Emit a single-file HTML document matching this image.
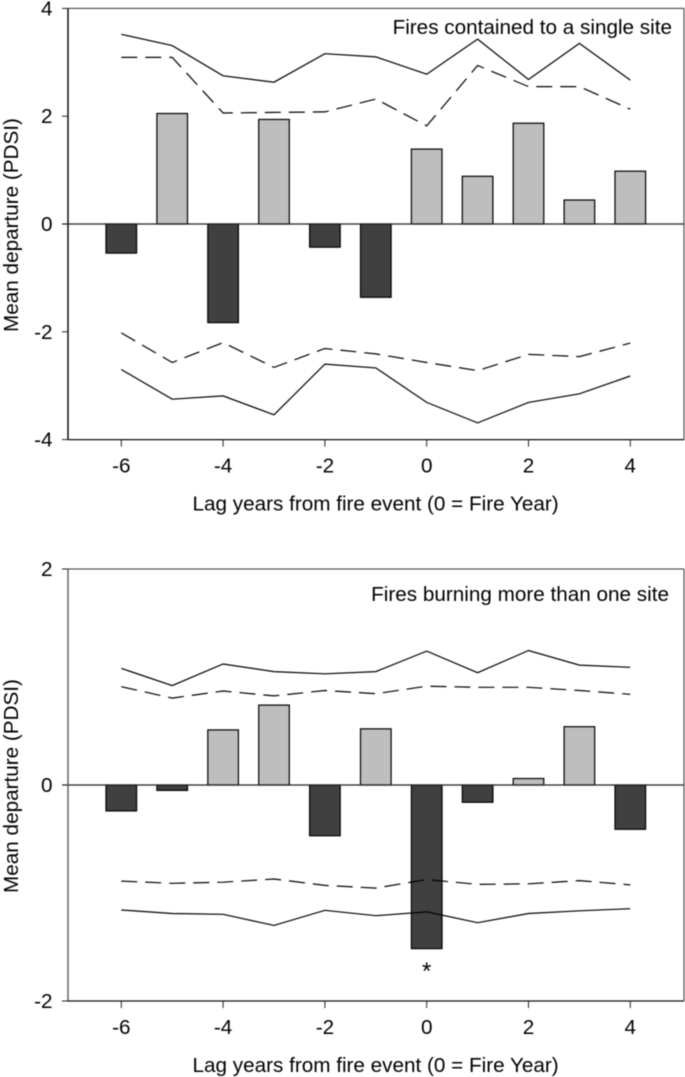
<!DOCTYPE html>
<html>
<head>
<meta charset="utf-8">
<title>Mean departure (PDSI) by lag year</title>
<style>
html,body{margin:0;padding:0;background:#fff;width:685px;height:1077px;overflow:hidden}
svg{display:block;position:absolute;left:0;top:0}
text{font-family:"Liberation Sans",sans-serif;fill:#000}
</style>
</head>
<body>
<svg id="chart" width="685" height="1077" viewBox="0 0 685 1077" xmlns="http://www.w3.org/2000/svg">
<g id="root" style="filter:blur(0.4px)"></g>
</svg>
<script>
var years = [-6,-5,-4,-3,-2,-1,0,1,2,3,4];
var xTickLabels = [-6,-4,-2,0,2,4];

var p1Ticks = [4,2,0,-2,-4];
var p1Bars = [-0.54,2.05,-1.83,1.94,-0.43,-1.36,1.39,0.885,1.87,0.445,0.98];
var p1UpperSolid = [3.52,3.31,2.75,2.63,3.16,3.10,2.78,3.43,2.68,3.35,2.67];
var p1UpperDash = [3.09,3.09,2.06,2.07,2.08,2.32,1.82,2.94,2.55,2.55,2.13];
var p1LowerDash = [-2.02,-2.57,-2.20,-2.66,-2.31,-2.41,-2.57,-2.72,-2.42,-2.46,-2.21];
var p1LowerSolid = [-2.70,-3.25,-3.19,-3.54,-2.60,-2.67,-3.31,-3.69,-3.31,-3.15,-2.82];

var p2Ticks = [2,0,-2];
var p2Bars = [-0.24,-0.05,0.51,0.74,-0.47,0.52,-1.515,-0.16,0.06,0.54,-0.41];
var p2UpperSolid = [1.08,0.92,1.12,1.05,1.03,1.05,1.24,1.04,1.245,1.11,1.09];
var p2UpperDash = [0.91,0.805,0.87,0.825,0.875,0.845,0.915,0.905,0.905,0.875,0.84];
var p2LowerDash = [-0.89,-0.91,-0.90,-0.87,-0.93,-0.955,-0.875,-0.92,-0.915,-0.885,-0.925];
var p2LowerSolid = [-1.157,-1.19,-1.197,-1.30,-1.16,-1.21,-1.175,-1.275,-1.19,-1.165,-1.145];

var NS = 'http://www.w3.org/2000/svg';
var root = document.getElementById('root');
var FONT = 20.7;

function make(tag, attrs, parent) {
  var el = document.createElementNS(NS, tag);
  for (var k in attrs) el.setAttribute(k, attrs[k]);
  parent.appendChild(el);
  return el;
}

function x(v) { return 426.7 + 50.9 * v; }

function drawPanel(cfg) {
  var g = make('g', {}, root);
  
  
  var y = function (v) { return cfg.zero - cfg.scale * v; };
  var L = 68, R = 684, T = y(cfg.ticks[0]), B = y(cfg.ticks[cfg.ticks.length - 1]);

  // bars
  cfg.bars.forEach(function (v, i) {
    var top = Math.min(y(v), cfg.zero), h = Math.abs(y(v) - cfg.zero);
    var bar = make('rect', {
      x: x(years[i]) - 15.3, y: top, width: 30.6, height: h,
      fill: v >= 0 ? '#bebebe' : '#404040', stroke: '#000', 'stroke-width': 1.2
    }, g);
    
    
  });

  // confidence lines
  function drawLine(values, dashed, name) {
    var pts = values.map(function (v, i) { return x(years[i]).toFixed(1) + ',' + y(v).toFixed(1); }).join(' ');
    var line = make('polyline', {
      points: pts, fill: 'none', stroke: '#000', 'stroke-width': 1.2,
      'stroke-dasharray': dashed ? '16 8' : 'none'
    }, g);
    
    
  }
  drawLine(cfg.upperSolid, false, 'upper-99-percent-line');
  drawLine(cfg.upperDash, true, 'upper-95-percent-line');
  drawLine(cfg.lowerDash, true, 'lower-95-percent-line');
  drawLine(cfg.lowerSolid, false, 'lower-99-percent-line');

  // zero line
  var zl = make('line', { x1: 62, x2: R, y1: cfg.zero, y2: cfg.zero, stroke: '#222', 'stroke-width': 1.3 }, g);
  
  

  // frame
  var top = make('line', { x1: L, x2: R, y1: T, y2: T, stroke: '#333', 'stroke-width': 1 }, g);
  
  
  var right = make('line', { x1: R, x2: R, y1: T, y2: B, stroke: '#333', 'stroke-width': 1 }, g);
  
  
  var yAxis = make('line', { x1: L, x2: L, y1: T, y2: B, stroke: cfg.axisColor, 'stroke-width': 1.5 }, g);
  
  
  var xAxis = make('line', { x1: L, x2: R, y1: B, y2: B, stroke: '#111', 'stroke-width': 1.3 }, g);
  
  

  // y ticks and labels
  cfg.ticks.forEach(function (v) {
    var t = make('line', { x1: 62, x2: L, y1: y(v), y2: y(v), stroke: '#222', 'stroke-width': 1 }, g);
    
    
    var lab = make('text', { x: 52.5, y: y(v) + 7, 'text-anchor': 'end', 'font-size': FONT }, g);
    lab.textContent = String(v);
    
    
  });

  // x ticks and labels
  xTickLabels.forEach(function (v) {
    var t = make('line', { x1: x(v), x2: x(v), y1: B, y2: B + 7, stroke: '#222', 'stroke-width': 1 }, g);
    
    
    var lab = make('text', { x: x(v), y: B + 33, 'text-anchor': 'middle', 'font-size': FONT }, g);
    lab.textContent = String(v);
    
    
  });

  // axis titles
  var xt = make('text', { x: 375.6, y: B + 71, 'text-anchor': 'middle', 'font-size': FONT }, g);
  xt.textContent = 'Lag years from fire event (0 = Fire Year)';
  
  

  var yt = make('text', { 'text-anchor': 'middle', 'font-size': FONT, transform: 'translate(18,' + cfg.titleY + ') rotate(-90)' }, g);
  yt.textContent = 'Mean departure (PDSI)';
  
  

  var pt = make('text', { x: cfg.labelX, y: cfg.labelY, 'text-anchor': 'end', 'font-size': FONT }, g);
  pt.textContent = cfg.label;
  
  
  return g;
}

drawPanel({
  name: 'panel-single-site', zero: 224, scale: 53.9, ticks: p1Ticks,
  bars: p1Bars, upperSolid: p1UpperSolid, upperDash: p1UpperDash,
  lowerDash: p1LowerDash, lowerSolid: p1LowerSolid,
  axisColor: '#111', titleY: 225, label: 'Fires contained to a single site',
  labelX: 672, labelY: 34
});

var panel2 = drawPanel({
  name: 'panel-multi-site', zero: 785, scale: 108, ticks: p2Ticks,
  bars: p2Bars, upperSolid: p2UpperSolid, upperDash: p2UpperDash,
  lowerDash: p2LowerDash, lowerSolid: p2LowerSolid,
  axisColor: '#666', titleY: 786, label: 'Fires burning more than one site',
  labelX: 669, labelY: 601
});

var star = make('text', { x: x(0), y: 979, 'text-anchor': 'middle', 'font-size': 24 }, panel2);
star.textContent = '*';


</script>
</body>
</html>
